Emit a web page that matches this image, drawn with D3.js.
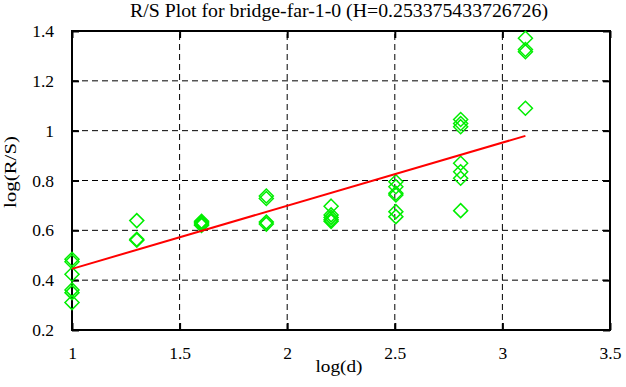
<!DOCTYPE html>
<html><head><meta charset="utf-8">
<script src="https://cdn.jsdelivr.net/npm/d3@7"></script>
<style>body{margin:0;background:#fff}svg{display:block}svg text{font-family:"Liberation Serif","Times New Roman",Times,serif}</style>
</head><body>
<script>
const title = "R/S Plot for bridge-far-1-0 (H=0.253375433726726)";
const xLabel = "log(d)";
const yLabel = "log(R/S)";
const xTicks = [1, 1.5, 2, 2.5, 3, 3.5];
const yTicks = [0.2, 0.4, 0.6, 0.8, 1, 1.2, 1.4];
const logD = [1, 1.301, 1.602, 1.903, 2.204, 2.505, 2.806, 3.107];
const logRS = [
  [0.484, 0.474, 0.424, 0.361, 0.350, 0.310],
  [0.639, 0.564, 0.560],
  [0.636, 0.630, 0.625, 0.620],
  [0.738, 0.728, 0.633, 0.625],
  [0.697, 0.662, 0.652, 0.642, 0.636],
  [0.795, 0.775, 0.749, 0.742, 0.675, 0.655],
  [1.045, 1.029, 1.016, 0.869, 0.835, 0.809, 0.679],
  [1.371, 1.326, 1.317, 1.090]
];
const H = 0.253375433726726;
const intercept = 0.192;

const W = 626, Ht = 387;
const m = {l: 72, r: 16, t: 31, b: 57};
const FS = 17.5;
const svg = d3.select("body").append("svg").attr("width", W).attr("height", Ht);
const x = d3.scaleLinear().domain([1, 3.5]).range([m.l, W - m.r]);
const y = d3.scaleLinear().domain([0.2, 1.4]).range([Ht - m.b, m.t]);

const g = svg.append("g");
g.selectAll(".vg").data(xTicks.slice(1, -1)).enter().append("line")
  .attr("x1", d => x(d)).attr("x2", d => x(d)).attr("y1", y(0.2)).attr("y2", y(1.4))
  .attr("stroke", "#000").attr("stroke-width", 1).attr("stroke-dasharray", "6,4");
g.selectAll(".hg").data(yTicks.slice(1, -1)).enter().append("line")
  .attr("y1", d => y(d)).attr("y2", d => y(d)).attr("x1", x(1)).attr("x2", x(3.5))
  .attr("stroke", "#000").attr("stroke-width", 1).attr("stroke-dasharray", "6,4");

const axB = svg.append("g").attr("transform", `translate(0,${y(0.2)})`)
  .call(d3.axisBottom(x).tickValues(xTicks).tickSizeInner(-7).tickSizeOuter(0).tickPadding(17).tickFormat(d3.format("")));
const axT = svg.append("g").attr("transform", `translate(0,${y(1.4)})`)
  .call(d3.axisTop(x).tickValues(xTicks).tickSizeInner(-7).tickSizeOuter(0).tickFormat(""));
const axL = svg.append("g").attr("transform", `translate(${x(1)},0)`)
  .call(d3.axisLeft(y).tickValues(yTicks).tickSizeInner(-7).tickSizeOuter(0).tickPadding(18).tickFormat(d3.format("")));
const axR = svg.append("g").attr("transform", `translate(${x(3.5)},0)`)
  .call(d3.axisRight(y).tickValues(yTicks).tickSizeInner(-7).tickSizeOuter(0).tickFormat(""));
[axB, axT, axL, axR].forEach(a => {
  a.attr("font-family", null).attr("font-size", FS);
  a.select(".domain").remove();
  a.selectAll(".tick line").attr("stroke", "#000").attr("stroke-width", 2);
  a.selectAll("text").attr("fill", "#000");
});

svg.append("rect").attr("x", x(1)).attr("y", y(1.4)).attr("width", x(3.5) - x(1)).attr("height", y(0.2) - y(1.4))
  .attr("fill", "none").attr("stroke", "#000").attr("stroke-width", 2);

const pts = [];
logD.forEach((xd, i) => logRS[i].forEach(v => pts.push([xd, v])));
const r = 7;
svg.append("g").selectAll("path").data(pts).enter().append("path")
  .attr("d", d => { const cx = x(d[0]), cy = y(d[1]); return `M${cx},${cy - r}L${cx + r},${cy}L${cx},${cy + r}L${cx - r},${cy}Z`; })
  .attr("fill", "none").attr("stroke", "#00ee00").attr("stroke-width", 1.5);

const xr = d3.extent(logD);
svg.append("line")
  .attr("x1", x(xr[0])).attr("y1", y(H * xr[0] + intercept))
  .attr("x2", x(xr[1])).attr("y2", y(H * xr[1] + intercept))
  .attr("stroke", "#ff0000").attr("stroke-width", 2);

svg.append("text").attr("x", 339).attr("y", 17).attr("text-anchor", "middle")
  .attr("font-size", 18).attr("textLength", 418).attr("lengthAdjust", "spacingAndGlyphs").text(title);
svg.append("text").attr("x", 339).attr("y", 372).attr("text-anchor", "middle")
  .attr("font-size", FS).attr("textLength", 47).attr("lengthAdjust", "spacingAndGlyphs").text(xLabel);
svg.append("text").attr("transform", `translate(16,172) rotate(-90)`).attr("text-anchor", "middle")
  .attr("font-size", FS).attr("textLength", 72).attr("lengthAdjust", "spacingAndGlyphs").text(yLabel);
</script>
</body></html>
